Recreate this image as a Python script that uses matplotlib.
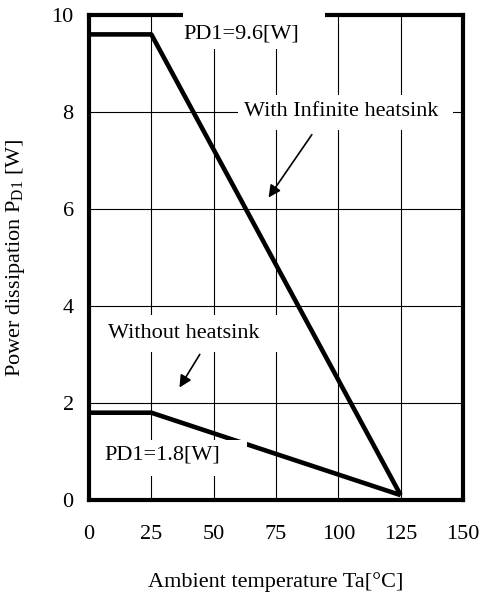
import matplotlib
matplotlib.use("Agg")
import matplotlib.pyplot as plt
from matplotlib.patches import Rectangle

# derating curves
ta = [0, 25, 125]
pd_infinite = [9.6, 9.6, 0.1]
pd_without = [1.8, 1.8, 0.1]

x_ticks = [0, 25, 50, 75, 100, 125, 150]
y_ticks = [0, 2, 4, 6, 8, 10]

plt.rcParams['font.family'] = ['Liberation Serif', 'DejaVu Serif']
plt.rcParams['mathtext.fontset'] = 'custom'
plt.rcParams['mathtext.rm'] = 'Liberation Serif'

fig = plt.figure(figsize=(4.83, 5.96), dpi=100)
ax = fig.add_axes([89/483, 1-500/596, 374/483, 485/596])

ax.set_xlim(0, 150)
ax.set_ylim(0, 10)
ax.set_xticks(x_ticks)
ax.set_yticks(y_ticks)
ax.tick_params(axis='both', length=0, labelsize=16)
ax.tick_params(axis='x', pad=18)
ax.tick_params(axis='y', pad=11)
ax.set_axisbelow(True)
ax.grid(True, color='black', linewidth=0.8)
for s in ax.spines.values():
    s.set_linewidth(3)

ax.plot(ta, pd_infinite, color='black', linewidth=3.3, zorder=2, solid_capstyle='butt')
ax.plot(ta, pd_without, color='black', linewidth=3.3, zorder=2, solid_capstyle='butt')

# white label boxes (they mask grid, spine and curve like in the original)
boxes = [(37.7, 9.3, 57.0, 0.85), (59.8, 7.63, 86.0, 0.72),
         (4.4, 3.05, 75.0, 0.76), (4.4, 0.5, 59.0, 0.74)]
for bx, by, bw, bh in boxes:
    ax.add_patch(Rectangle((bx, by), bw, bh, facecolor='white', edgecolor='none',
                           zorder=3, clip_on=False))

ax.text(61, 9.6, "PD1=9.6[W]", fontsize=16, ha='center', va='center', zorder=4)
ax.text(101, 8.0, "With Infinite heatsink", fontsize=16, ha='center', va='center', zorder=4)
ax.text(38, 3.44, "Without heatsink", fontsize=16, ha='center', va='center', zorder=4)
ax.text(29.4, 0.93, "PD1=1.8[W]", fontsize=16, ha='center', va='center', zorder=4)

ax.annotate("", xy=(71.4, 6.19), xytext=(90.0, 7.58),
            arrowprops=dict(arrowstyle='-|>', color='black', lw=1.2, mutation_scale=18),
            zorder=4)
ax.annotate("", xy=(35.7, 2.27), xytext=(45.0, 3.05),
            arrowprops=dict(arrowstyle='-|>', color='black', lw=1.2, mutation_scale=18),
            zorder=4)

ax.set_xlabel("Ambient temperature Ta[°C]", fontsize=16, labelpad=20)
ax.set_ylabel(r"Power dissipation P$\mathregular{_{D1}}$ [W]", fontsize=16)
ax.yaxis.set_label_coords(-0.165, 0.5)

fig.savefig("out.png", dpi=100)
